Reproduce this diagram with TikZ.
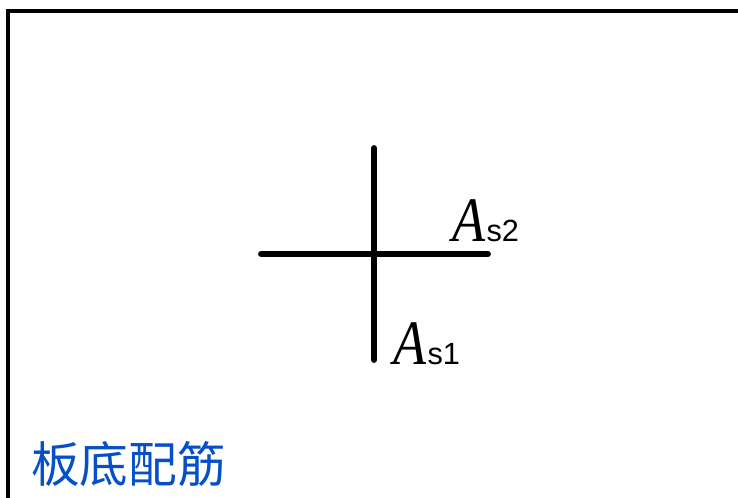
\documentclass[tikz,border=0pt]{standalone}
\usepackage{fontspec}
\newfontfamily\timesit{Liberation Serif}[Ligatures=TeX]
\newfontfamily\arialf{Liberation Sans}
\newfontfamily\cjk{Noto Sans CJK SC}
\definecolor{labelblue}{RGB}{5,80,200}
\newcommand{\bigA}{\scalebox{0.92}[1.08]{\fontsize{44}{48}\selectfont\timesit\itshape A}}
\tikzset{
  frameline/.style={line width=3pt, line cap=rect},
  rebar/.style={line width=4.4pt, line cap=round},
  alabel/.style={inner sep=0pt, anchor=base west},
  title/.style={inner sep=0pt, anchor=base west, text=labelblue, font=\cjk\fontsize{36.5}{40}\selectfont}
}
\begin{document}
\begin{tikzpicture}[x=0.75pt,y=-0.75pt]
\useasboundingbox (0,0) rectangle (738,498);
% frame
\coordinate (fTL) at (8,11);
\coordinate (fTR) at (740,11);
\coordinate (fBL) at (8,500);
\draw[frameline] (fBL) -- (fTL) -- (fTR);
% rebars
\coordinate (vT) at (374,148);
\coordinate (vB) at (374,360);
\coordinate (hL) at (261,254);
\coordinate (hR) at (488,254);
\draw[rebar] (vT) -- (vB);
\draw[rebar] (hL) -- (hR);
% labels
\node[alabel] (as2) at (452,242) {\bigA\kern1pt\arialf\fontsize{23}{26}\selectfont s2};
\node[alabel] (as1) at (393,365) {\bigA\kern1pt\arialf\fontsize{23}{26}\selectfont s1};
\node[title] (ttl) at (31,482) {板底配筋};
\end{tikzpicture}
\end{document}
